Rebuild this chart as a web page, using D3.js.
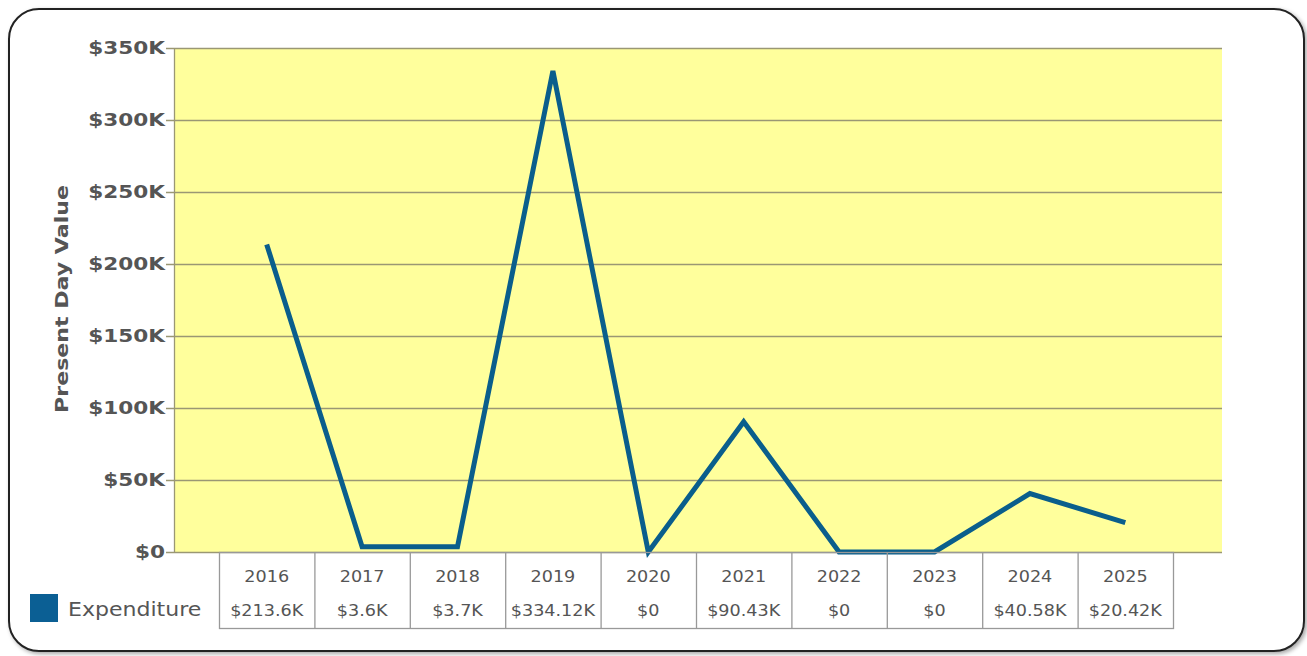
<!DOCTYPE html>
<html>
<head>
<meta charset="utf-8">
<script src="https://cdn.jsdelivr.net/npm/d3@7"></script>
<style>
  html, body { margin: 0; padding: 0; background: #fff; }
  svg { display: block; }
</style>
</head>
<body>
<svg id="chart" width="1307" height="656"></svg>
<script>
const years = ["2016","2017","2018","2019","2020","2021","2022","2023","2024","2025"];
const expenditure = [213600, 3600, 3700, 334120, 0, 90430, 0, 0, 40580, 20420];
const valueLabels = ["$213.6K","$3.6K","$3.7K","$334.12K","$0","$90.43K","$0","$0","$40.58K","$20.42K"];
const yTicks = [0, 50000, 100000, 150000, 200000, 250000, 300000, 350000];
const seriesName = "Expenditure";
const axisTitle = "Present Day Value";

const FONT = "DejaVu Sans, Verdana, sans-serif";
const svg = d3.select("#chart");
const defs = svg.append("defs");
const f = defs.append("filter").attr("id","shadow").attr("x","-5%").attr("y","-5%").attr("width","110%").attr("height","110%");
f.append("feDropShadow").attr("dx",2).attr("dy",2).attr("stdDeviation",2).attr("flood-color","#000").attr("flood-opacity",0.35);

// frame
svg.append("rect")
  .attr("x", 9).attr("y", 9).attr("width", 1295).attr("height", 642)
  .attr("rx", 30).attr("ry", 30)
  .attr("fill", "#fff").attr("stroke", "#222").attr("stroke-width", 2)
  .attr("filter", "url(#shadow)");

const plotL = 174, plotR = 1222, plotT = 48, plotB = 552;
const x = d3.scaleBand().domain(years).range([219, 1173]).padding(0);
const y = d3.scaleLinear().domain([0, 350000]).range([plotB, plotT]);

// plot background
svg.append("rect").attr("x", plotL).attr("y", plotT).attr("width", plotR - plotL).attr("height", plotB - plotT)
  .attr("fill", "#ffff9c");

// gridlines
svg.append("g").selectAll("line").data(yTicks).join("line")
  .attr("x1", plotL - 8).attr("x2", plotR)
  .attr("y1", d => y(d) + 0.5).attr("y2", d => y(d) + 0.5)
  .attr("stroke", "#9a9774").attr("stroke-width", 1.3);

// left axis line
svg.append("line").attr("x1", plotL + 0.5).attr("x2", plotL + 0.5).attr("y1", plotT).attr("y2", plotB)
  .attr("stroke", "#9a9774").attr("stroke-width", 1.3);

// y tick labels
const fmtK = d => d === 0 ? "$0" : "$" + (d / 1000) + "K";
svg.append("g").selectAll("text").data(yTicks).join("text")
  .attr("transform", d => `translate(165,${y(d) + 6}) scale(1.2,1)`)
  .attr("text-anchor", "end")
  .attr("font-family", FONT)
  .attr("font-weight", "bold").attr("font-size", 18)
  .attr("fill", "#555")
  .text(fmtK);

// axis title
svg.append("text")
  .attr("transform", "translate(68,299) rotate(-90) scale(1.3,1)")
  .attr("text-anchor", "middle")
  .attr("font-family", FONT)
  .attr("font-weight", "bold").attr("font-size", 17)
  .attr("fill", "#555")
  .text(axisTitle);

// line
const line = d3.line()
  .x((d, i) => x(years[i]) + x.bandwidth() / 2)
  .y(d => y(d));
svg.append("path").datum(expenditure)
  .attr("d", line)
  .attr("fill", "none").attr("stroke", "#0a5e8c").attr("stroke-width", 5)
  .attr("stroke-linejoin", "miter");

// data table
const tblT = 552, tblB = 628;
const tg = svg.append("g");
tg.append("rect").attr("x", x.range()[0] + 0.5).attr("y", tblT + 0.5)
  .attr("width", x.range()[1] - x.range()[0]).attr("height", tblB - tblT)
  .attr("fill", "none").attr("stroke", "#999").attr("stroke-width", 1.3);
tg.selectAll("line.sep").data(years.slice(1)).join("line")
  .attr("class", "sep")
  .attr("x1", d => x(d) + 0.5).attr("x2", d => x(d) + 0.5)
  .attr("y1", tblT).attr("y2", tblB)
  .attr("stroke", "#999").attr("stroke-width", 1.3);
tg.selectAll("text.yr").data(years).join("text")
  .attr("class", "yr")
  .attr("transform", d => `translate(${x(d) + x.bandwidth() / 2},582) scale(1.1,1)`)
  .attr("text-anchor", "middle")
  .attr("font-family", FONT).attr("font-size", 16)
  .attr("fill", "#555")
  .text(d => d);
tg.selectAll("text.val").data(valueLabels).join("text")
  .attr("class", "val")
  .attr("transform", (d, i) => `translate(${x(years[i]) + x.bandwidth() / 2},616) scale(1.1,1)`)
  .attr("text-anchor", "middle")
  .attr("font-family", FONT).attr("font-size", 16)
  .attr("fill", "#555")
  .text(d => d);

// legend
svg.append("rect").attr("x", 30).attr("y", 594).attr("width", 28).attr("height", 28).attr("fill", "#0b5f94");
svg.append("text")
  .attr("transform", "translate(68,616) scale(1.16,1)")
  .attr("font-family", FONT).attr("font-size", 19)
  .attr("fill", "#555")
  .text(seriesName);
</script>
</body>
</html>
